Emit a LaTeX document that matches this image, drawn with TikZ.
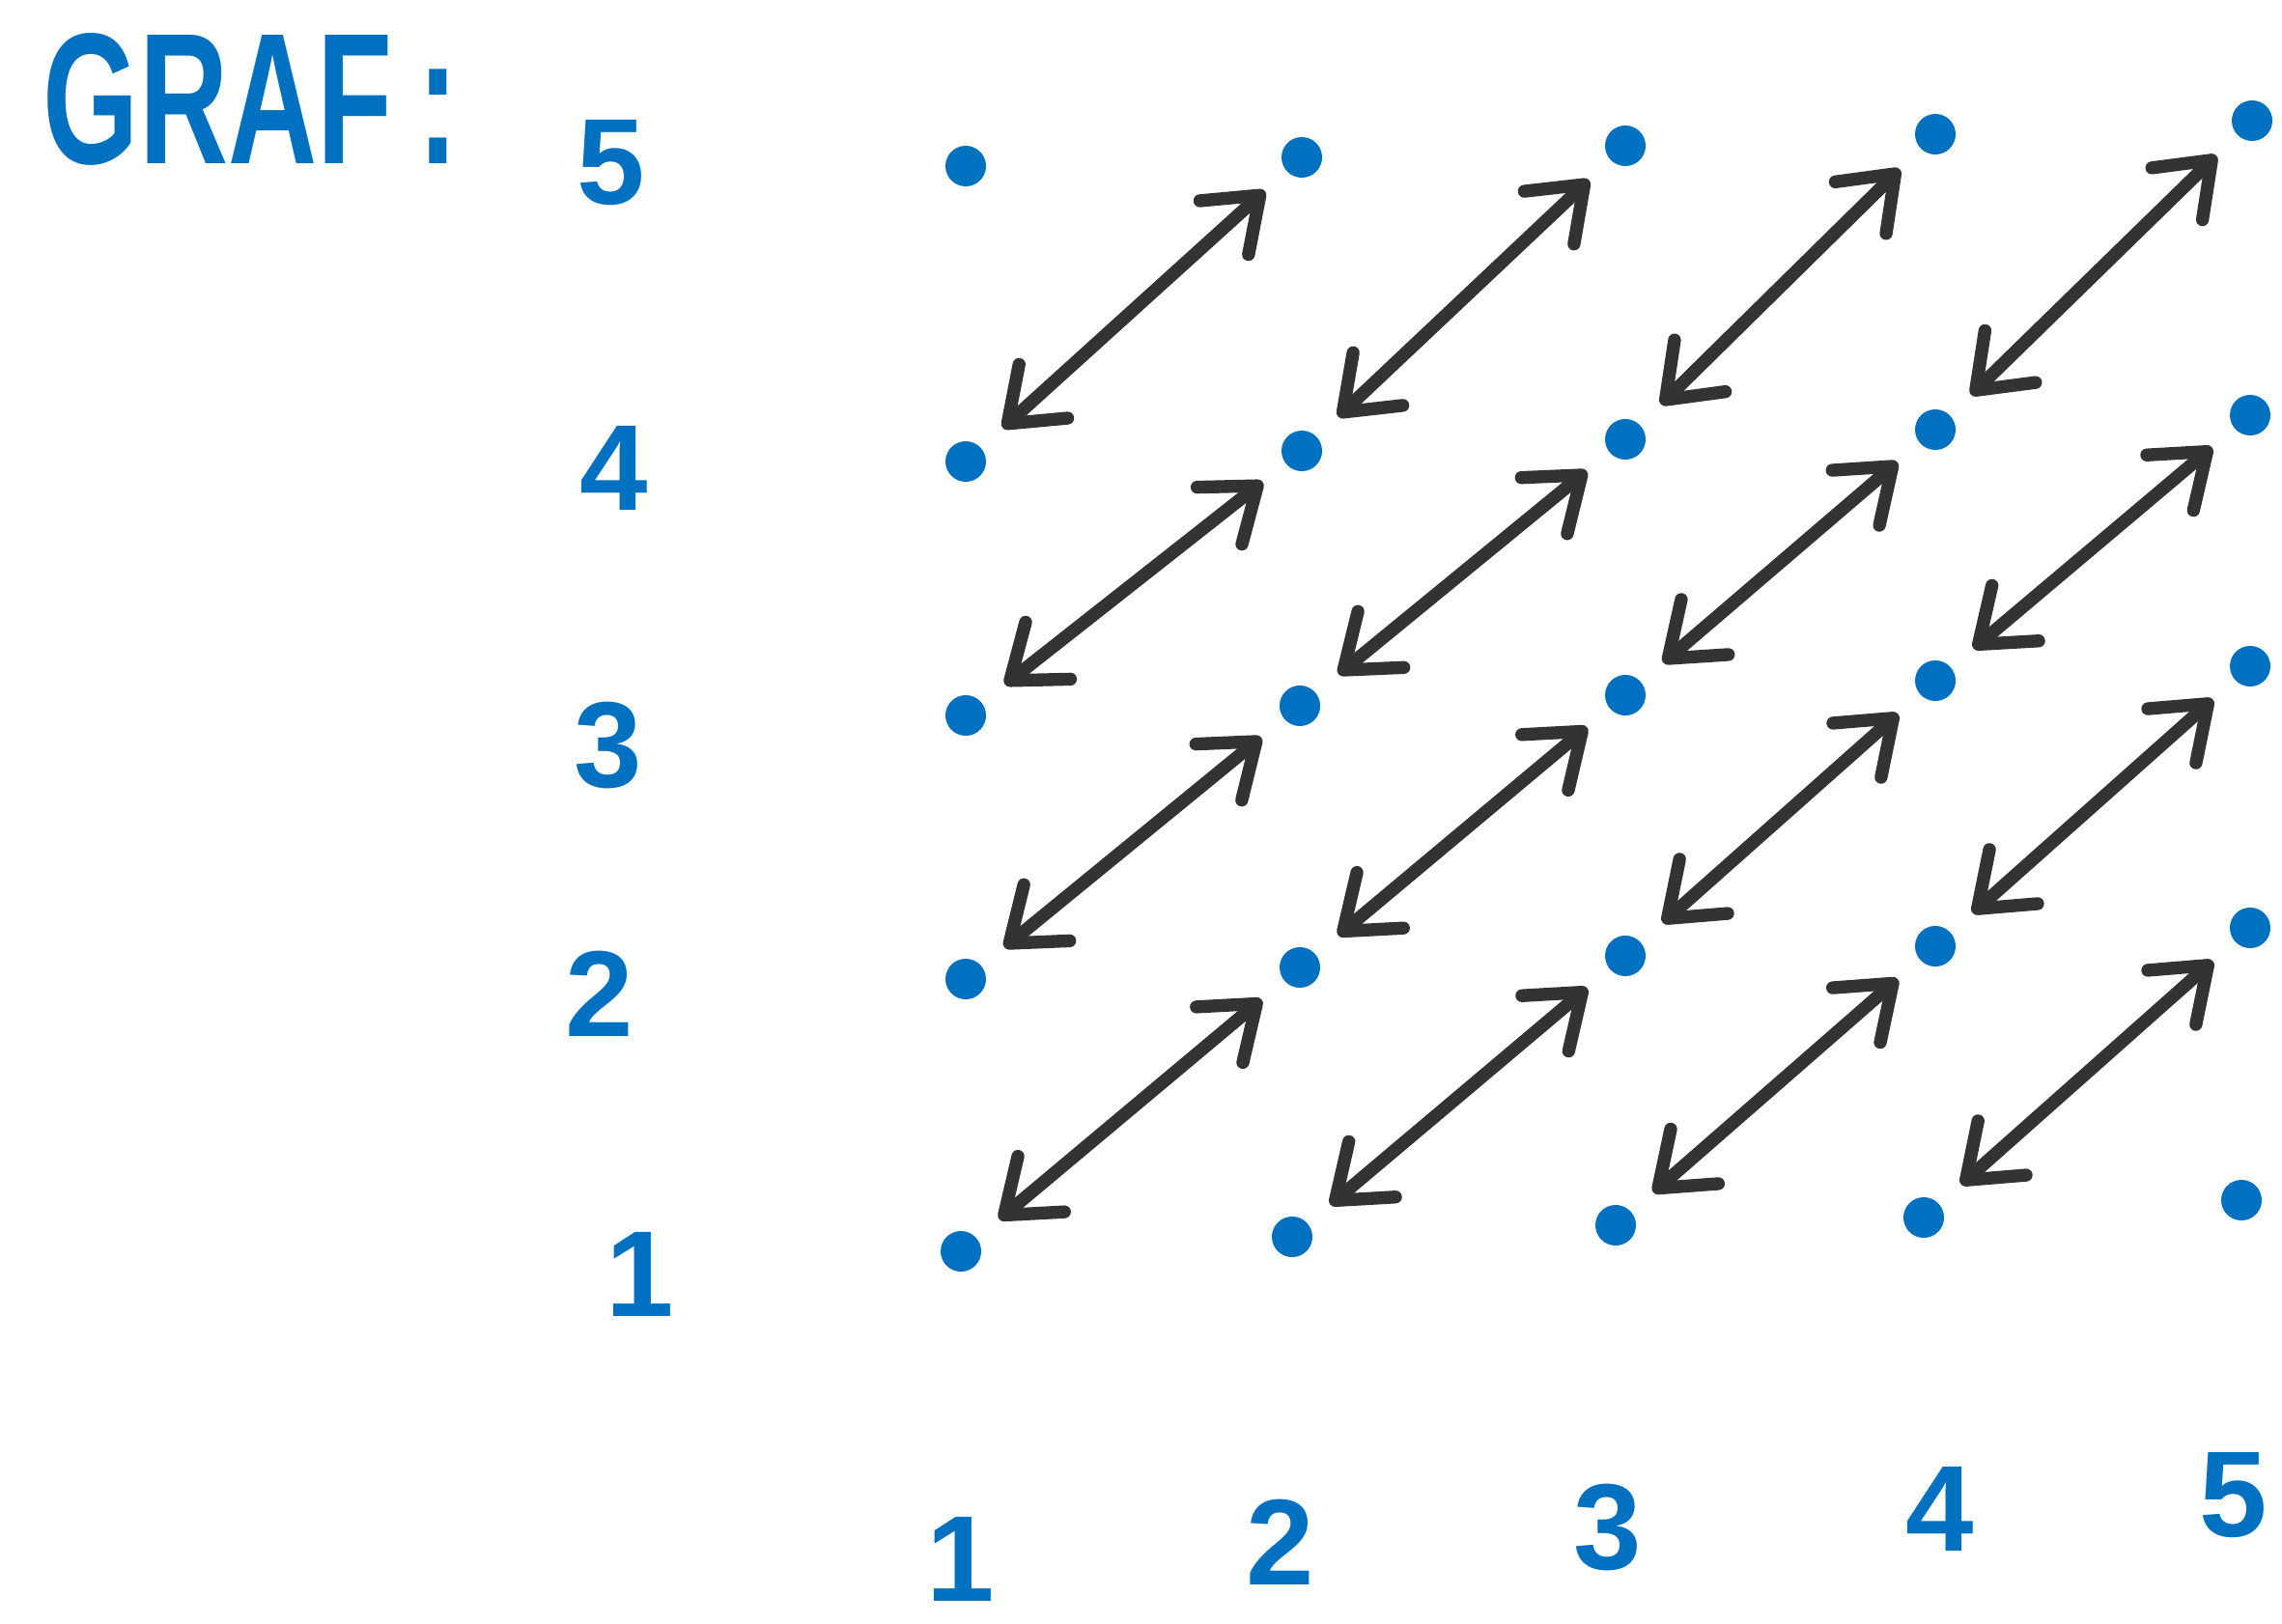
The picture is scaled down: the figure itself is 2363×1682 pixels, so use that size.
\documentclass[tikz,border=0pt]{standalone}
\usepackage{fontspec}
\setmainfont{Liberation Sans}
\usetikzlibrary{arrows.meta}
\definecolor{pen}{HTML}{0070C0}
\definecolor{ink}{HTML}{333333}
\begin{document}
\begin{tikzpicture}[x=0.01cm,y=-0.01cm,
  dot/.style={circle,fill=pen,inner sep=0pt,minimum size=0.42cm},
  arr/.style={draw=ink,line width=3.8pt,line cap=round,line join=round,
    arrows={Straight Barb[length=5mm,width=7.5mm,round]-Straight Barb[length=5mm,width=7.5mm,round]},
    shorten >=0.3cm,shorten <=0.3cm},
  lab/.style={text=pen,font=\fontsize{36}{40}\selectfont\bfseries,inner sep=0pt}]
\useasboundingbox (0,0) rectangle (2363,1682);
% title
\node[text=pen,font=\fontsize{55}{60}\selectfont\bfseries,inner sep=0pt,anchor=base west] (title) at (44,170) {\scalebox{0.66}[1]{GRAF\hspace{0.4cm}:}};
% dots: d<col><row>
\node[dot] (d15) at (1000,172) {};
\node[dot] (d25) at (1348,163) {};
\node[dot] (d35) at (1683,151) {};
\node[dot] (d45) at (2004,139) {};
\node[dot] (d55) at (2332,125) {};
\node[dot] (d14) at (1000,478) {};
\node[dot] (d24) at (1348,467) {};
\node[dot] (d34) at (1683,455) {};
\node[dot] (d44) at (2004,445) {};
\node[dot] (d54) at (2330,430) {};
\node[dot] (d13) at (1000,741) {};
\node[dot] (d23) at (1346,731) {};
\node[dot] (d33) at (1683,720) {};
\node[dot] (d43) at (2004,705) {};
\node[dot] (d53) at (2330,690) {};
\node[dot] (d12) at (1000,1014) {};
\node[dot] (d22) at (1346,1002) {};
\node[dot] (d32) at (1683,990) {};
\node[dot] (d42) at (2004,980) {};
\node[dot] (d52) at (2330,961) {};
\node[dot] (d11) at (995,1296) {};
\node[dot] (d21) at (1338,1281) {};
\node[dot] (d31) at (1673,1269) {};
\node[dot] (d41) at (1992,1261) {};
\node[dot] (d51) at (2321,1243) {};
% arrows
\foreach \i in {1,...,4}{
  \foreach \j in {1,...,4}{
    \pgfmathtruncatemacro{\ii}{\i+1}
    \pgfmathtruncatemacro{\jj}{\j+1}
    \draw[arr] (d\i\j) -- (d\ii\jj);
  }
}
% left labels
\node[lab] (l5) at (633,169) {5};
\node[lab] (l4) at (636,485) {4};
\node[lab] (l3) at (630,772) {3};
\node[lab] (l2) at (621,1029) {2};
\node[lab] (l1) at (663,1320) {1};
% bottom labels
\node[lab] (b1) at (995,1615) {1};
\node[lab] (b2) at (1326,1597) {2};
\node[lab] (b3) at (1665,1582) {3};
\node[lab] (b4) at (2009,1563) {4};
\node[lab] (b5) at (2313,1549) {5};
\end{tikzpicture}
\end{document}
